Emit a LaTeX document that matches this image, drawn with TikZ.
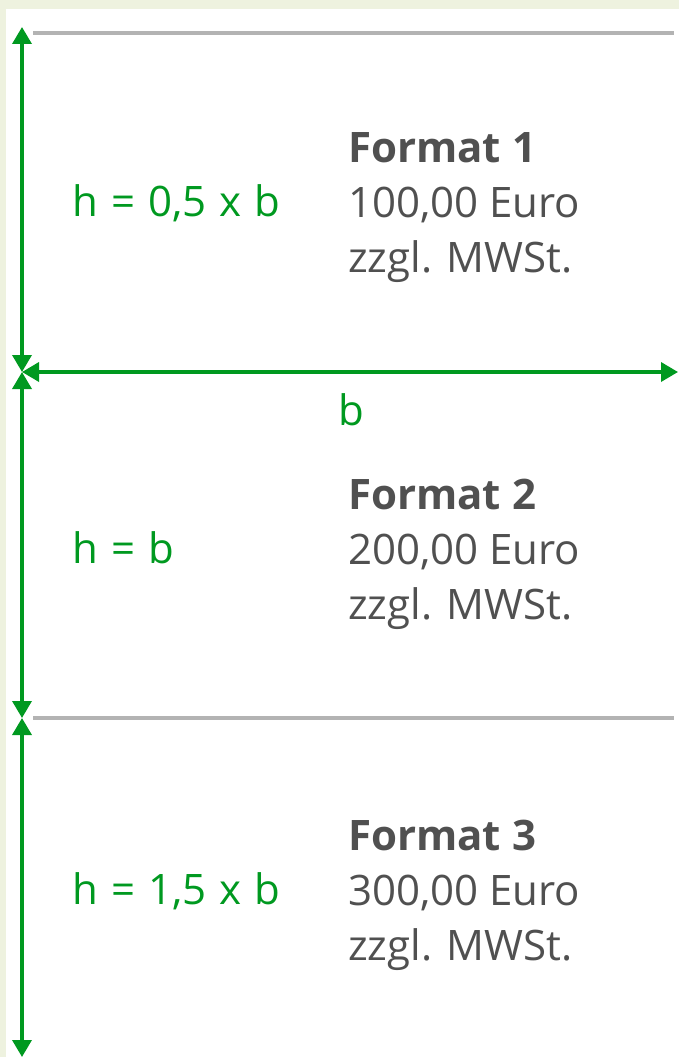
\documentclass[tikz,border=0pt]{standalone}
\usepackage{fontspec}
\setmainfont{Open Sans}
\newfontfamily\labelfont[WordSpace=1.2]{Open Sans}
\usetikzlibrary{arrows.meta,positioning}
\definecolor{dimgreen}{RGB}{0,153,32}
\definecolor{textgray}{RGB}{80,80,80}
\definecolor{rulegray}{RGB}{179,179,179}
\definecolor{pagegreen}{RGB}{238,242,223}
\tikzset{
    %Define standard arrow tip
    >={Triangle[width=19pt,length=17pt]},
    %Define style for the format texts
    title/.style={
      anchor=base west,
      inner sep=0pt,
      text=textgray,
      font=\fontsize{42}{55}\selectfont\bfseries},
    price/.style={
      anchor=base west,
      inner sep=0pt,
      text=textgray,
      font=\fontsize{42}{55}\selectfont},
    % Define style for the size labels
    hlabel/.style={
      anchor=base west,
      inner sep=0pt,
      text=dimgreen,
      font=\labelfont\fontsize{42}{55}\selectfont},
    % Define dimension arrow style
    dim/.style={
      <->,
      draw=dimgreen,
      line width=3.5pt},
    % Define separator style
    sep/.style={
      draw=rulegray,
      line width=4pt}
}
\begin{document}
\begin{tikzpicture}[x=1pt, y=-1pt]
    \useasboundingbox (0,0) rectangle (679,1057);
    \fill[pagegreen] (0,0) rectangle (679,1057);
    \fill[white] (6,9) rectangle (679,1057);

    % separators
    \coordinate (sep1l) at (33,33);
    \coordinate (sep1r) at (674,33);
    \coordinate (sep2l) at (33,718);
    \coordinate (sep2r) at (674,718);
    \draw[sep] (sep1l) -- (sep1r);
    \draw[sep] (sep2l) -- (sep2r);

    % dimension arrows
    \coordinate (top) at (22,27);
    \coordinate (mid1) at (22,372);
    \coordinate (mid2) at (22,718);
    \coordinate (bot) at (22,1057);
    \coordinate (right) at (678,372);
    \draw[dim] (top) -- (mid1);
    \draw[dim] (mid1) -- (mid2);
    \draw[dim] (mid2) -- (bot);
    \draw[dim] (mid1) -- (right);
    \node[hlabel, anchor=base] (width) at (351,425) {b};

    \foreach \n/\y/\price/\h in {1/162/{100,00}/{h = 0,5 x b},
                                 2/509/{200,00}/{h = b},
                                 3/850/{300,00}/{h = 1,5 x b}} {
      \node[title] (title\n) at (348,\y) {Format \n};
      \node[price] (price\n) at ([yshift=-55pt]title\n.base west) {\price{} Euro};
      \node[price] (tax\n) at ([yshift=-55pt]price\n.base west) {zzgl. MWSt.};
      \node[hlabel] (height\n) at (72,\y+54) {\h};
    }
\end{tikzpicture}
\end{document}
